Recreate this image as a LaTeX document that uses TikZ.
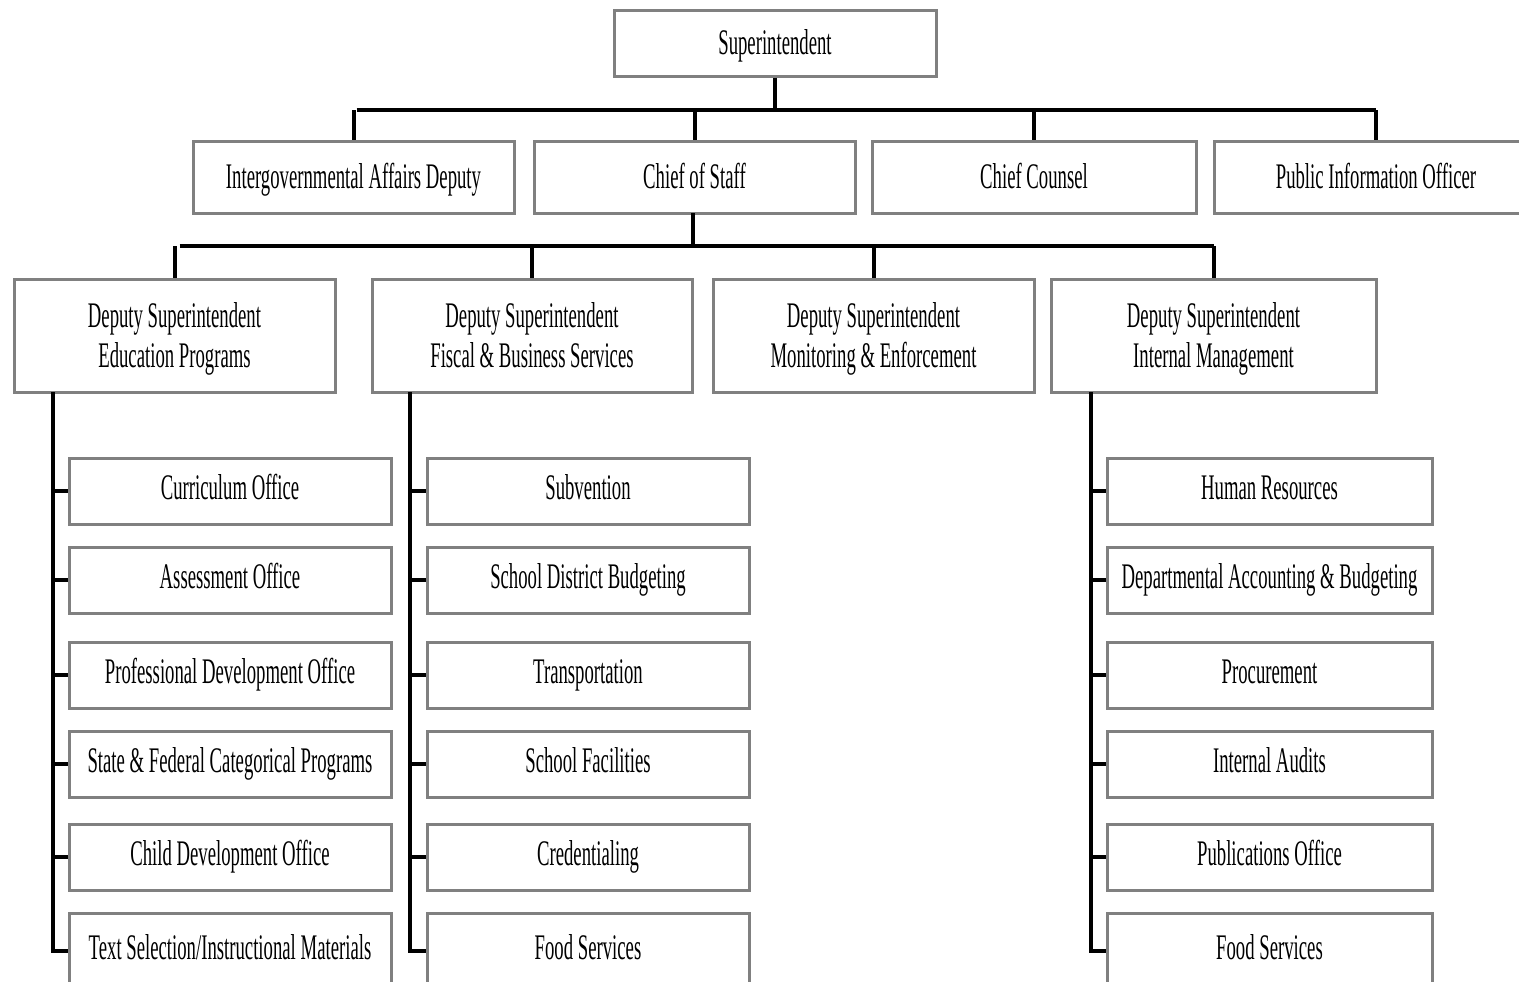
\documentclass[tikz,border=0pt]{standalone}
\usepackage{fontspec}
\newfontfamily\cond[FakeStretch=0.52]{Liberation Serif}
\definecolor{boxgray}{RGB}{128,128,128}
\begin{document}
\begin{tikzpicture}[x=0.5pt,y=-0.5pt,
  box/.style={draw=boxgray, line width=1.5pt, fill=white, inner sep=0pt,
    align=center, font=\cond\fontsize{18}{20}\selectfont},
  topl/.style={box, text height=12.6pt, text depth=1.1pt},
  twol/.style={box, text height=32.6pt, text depth=1.1pt},
  onel/.style={box, text height=12.6pt, text depth=4.6pt},
  conn/.style={line width=2pt, black}]
\clip (0,0) rectangle (1519,981);
\fill[white] (0,0) rectangle (1519,981);
% top
\node[topl, minimum width=161pt, minimum height=33pt] (sup) at (775,43) {Superintendent};
% row 2
\node[topl, minimum width=160.5pt, minimum height=36pt] (iga) at (353.5,177) {Intergovernmental Affairs Deputy};
\node[topl, minimum width=160.5pt, minimum height=36pt] (cos) at (694.5,177) {Chief of Staff};
\node[topl, minimum width=162pt, minimum height=36pt] (cc) at (1034,177) {Chief Counsel};
\node[topl, minimum width=162pt, minimum height=36pt] (pio) at (1376,177) {Public Information Officer};
% row 3
\node[twol, minimum width=160.5pt, minimum height=56.5pt] (edp) at (174.5,335.5) {Deputy Superintendent\\Education Programs};
\node[twol, minimum width=160pt, minimum height=56.5pt] (fbs) at (532,335.5) {Deputy Superintendent\\Fiscal \& Business Services};
\node[twol, minimum width=160.5pt, minimum height=56.5pt] (mon) at (873.5,335.5) {Deputy Superintendent\\Monitoring \& Enforcement};
\node[twol, minimum width=162.5pt, minimum height=56.5pt] (inm) at (1213.5,335.5) {Deputy Superintendent\\Internal Management};
% sub boxes
\tikzset{sub/.style={onel, minimum width=161pt, minimum height=33pt},
         last/.style={minimum height=38pt}}
\node[sub] (l1) at (230,491) {Curriculum Office};
\node[sub] (l2) at (230,580) {Assessment Office};
\node[sub] (l3) at (230,675) {Professional Development Office};
\node[sub] (l4) at (230,764) {State \& Federal Categorical Programs};
\node[sub] (l5) at (230,857) {Child Development Office};
\node[sub, last] (l6) at (230,951) {Text Selection/Instructional Materials};
\node[sub] (m1) at (588,491) {Subvention};
\node[sub] (m2) at (588,580) {School District Budgeting};
\node[sub] (m3) at (588,675) {Transportation};
\node[sub] (m4) at (588,764) {School Facilities};
\node[sub] (m5) at (588,857) {Credentialing};
\node[sub, last] (m6) at (588,951) {Food Services};
\tikzset{subr/.style={sub, minimum width=162.5pt}}
\node[subr] (r1) at (1269.5,491) {Human Resources};
\node[subr] (r2) at (1269.5,580) {Departmental Accounting \& Budgeting};
\node[subr] (r3) at (1269.5,675) {Procurement};
\node[subr] (r4) at (1269.5,764) {Internal Audits};
\node[subr] (r5) at (1269.5,857) {Publications Office};
\node[subr, last] (r6) at (1269.5,951) {Food Services};
% connectors top
\coordinate (bus1) at (775,110);
\draw[conn] (sup.south) -- (sup.south |- bus1);
\draw[conn] ([xshift=1.5pt]iga.north |- bus1) -- (pio.north |- bus1);
\foreach \n in {iga,cos,cc,pio} \draw[conn] (\n.north |- bus1) -- (\n.north);
\coordinate (bus2) at (693,246);
\coordinate (cosd) at (693,213);
\draw[conn] (cosd) -- (bus2);
\draw[conn] ([xshift=2.5pt]edp.north |- bus2) -- (inm.north |- bus2);
\foreach \n in {edp,fbs,mon,inm} \draw[conn] (\n.north |- bus2) -- (\n.north);
% spines
\coordinate (spL) at (53,392);
\coordinate (spM) at (410,392);
\coordinate (spR) at (1091,392);
\draw[conn] (spL) |- (l6.west);
\draw[conn] (spM) |- (m6.west);
\draw[conn] (spR) |- (r6.west);
\foreach \n in {1,...,5} {
  \draw[conn] (l\n.west) -- (l\n.west -| spL);
  \draw[conn] (m\n.west) -- (m\n.west -| spM);
  \draw[conn] (r\n.west) -- (r\n.west -| spR);
}
\end{tikzpicture}
\end{document}
